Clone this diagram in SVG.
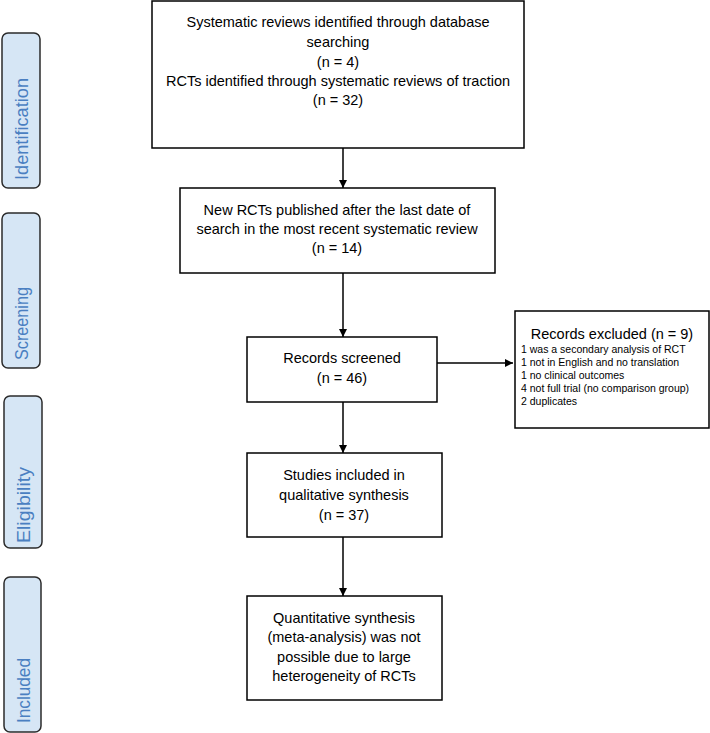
<svg xmlns="http://www.w3.org/2000/svg" width="710" height="733" viewBox="0 0 710 733">
<defs>
<style>
.box{fill:#fff;stroke:#000;stroke-width:1.5}
.side{fill:#d6e6f5;stroke:#2b2b2b;stroke-width:1.5}
.t{font-family:"Liberation Sans",Arial,sans-serif;font-size:14.5px;fill:#000;text-anchor:middle}
.s{font-family:"Liberation Sans",Arial,sans-serif;font-size:10.5px;fill:#000}
.h{font-family:"Liberation Sans",Arial,sans-serif;font-size:14.5px;fill:#000;text-anchor:middle}
.lab{font-family:"Liberation Sans",Arial,sans-serif;font-size:18px;fill:#4a7fc1;text-anchor:start}
.c{stroke:#000;stroke-width:1.5;fill:none;marker-end:url(#ah)}
</style>
<marker id="ah" viewBox="0 0 10 10" refX="10" refY="5" markerWidth="5.5" markerHeight="5.5" orient="auto" markerUnits="strokeWidth">
<path d="M0,0 L10,5 L0,10 z" fill="#000"/>
</marker>
</defs>
<g id="phase-identification"><rect class="side" x="2" y="33" width="38" height="155" rx="6"/><text class="lab" textLength="102" lengthAdjust="spacingAndGlyphs" transform="translate(28,180) rotate(-90)">Identification</text></g>
<g id="phase-screening"><rect class="side" x="2" y="213" width="38" height="155" rx="6"/><text class="lab" textLength="73" lengthAdjust="spacingAndGlyphs" transform="translate(28,360) rotate(-90)">Screening</text></g>
<g id="phase-eligibility"><rect class="side" x="4" y="396" width="38" height="152" rx="6"/><text class="lab" textLength="76" lengthAdjust="spacingAndGlyphs" transform="translate(30,543) rotate(-90)">Eligibility</text></g>
<g id="phase-included"><rect class="side" x="4" y="577" width="37" height="155" rx="6"/><text class="lab" textLength="65" lengthAdjust="spacingAndGlyphs" transform="translate(30,723) rotate(-90)">Included</text></g>
<g id="connectors">
<line class="c" x1="343" y1="148" x2="343" y2="188"/>
<line class="c" x1="343" y1="273" x2="343" y2="337"/>
<line class="c" x1="343" y1="402" x2="343" y2="453"/>
<line class="c" x1="343" y1="537" x2="343" y2="596"/>
<line class="c" x1="437" y1="363" x2="513" y2="363"/>
</g>
<g id="n1"><rect class="box" x="152" y="1" width="372" height="147"/>
<text class="t" x="338" y="27">Systematic reviews identified through database</text>
<text class="t" x="338" y="47">searching</text>
<text class="t" x="338" y="67">(n = 4)</text>
<text class="t" x="338" y="86">RCTs identified through systematic reviews of traction</text>
<text class="t" x="338" y="105">(n = 32)</text></g>
<g id="n2"><rect class="box" x="180" y="188" width="315" height="85"/>
<text class="t" x="337" y="215">New RCTs published after the last date of</text>
<text class="t" x="337" y="234">search in the most recent systematic review</text>
<text class="t" x="337" y="253">(n = 14)</text></g>
<g id="n3"><rect class="box" x="247" y="337" width="190" height="65"/>
<text class="t" x="342" y="363">Records screened</text>
<text class="t" x="342" y="383">(n = 46)</text></g>
<g id="n4"><rect class="box" x="247" y="453" width="195" height="84"/>
<text class="t" x="344" y="480">Studies included in</text>
<text class="t" x="344" y="500">qualitative synthesis</text>
<text class="t" x="344" y="520">(n = 37)</text></g>
<g id="n5"><rect class="box" x="247" y="596" width="195" height="104"/>
<text class="t" x="344" y="623">Quantitative synthesis</text>
<text class="t" x="344" y="642">(meta-analysis) was not</text>
<text class="t" x="344" y="662">possible due to large</text>
<text class="t" x="344" y="681">heterogeneity of RCTs</text></g>
<g id="n6"><rect class="box" x="515" y="311" width="194" height="117"/>
<text class="h" x="612" y="339">Records excluded (n = 9)</text>
<text class="s" x="521" y="353">1 was a secondary analysis of RCT</text>
<text class="s" x="521" y="366">1 not in English and no translation</text>
<text class="s" x="521" y="379">1 no clinical outcomes</text>
<text class="s" x="521" y="392">4 not full trial (no comparison group)</text>
<text class="s" x="521" y="405">2 duplicates</text></g>
</svg>
